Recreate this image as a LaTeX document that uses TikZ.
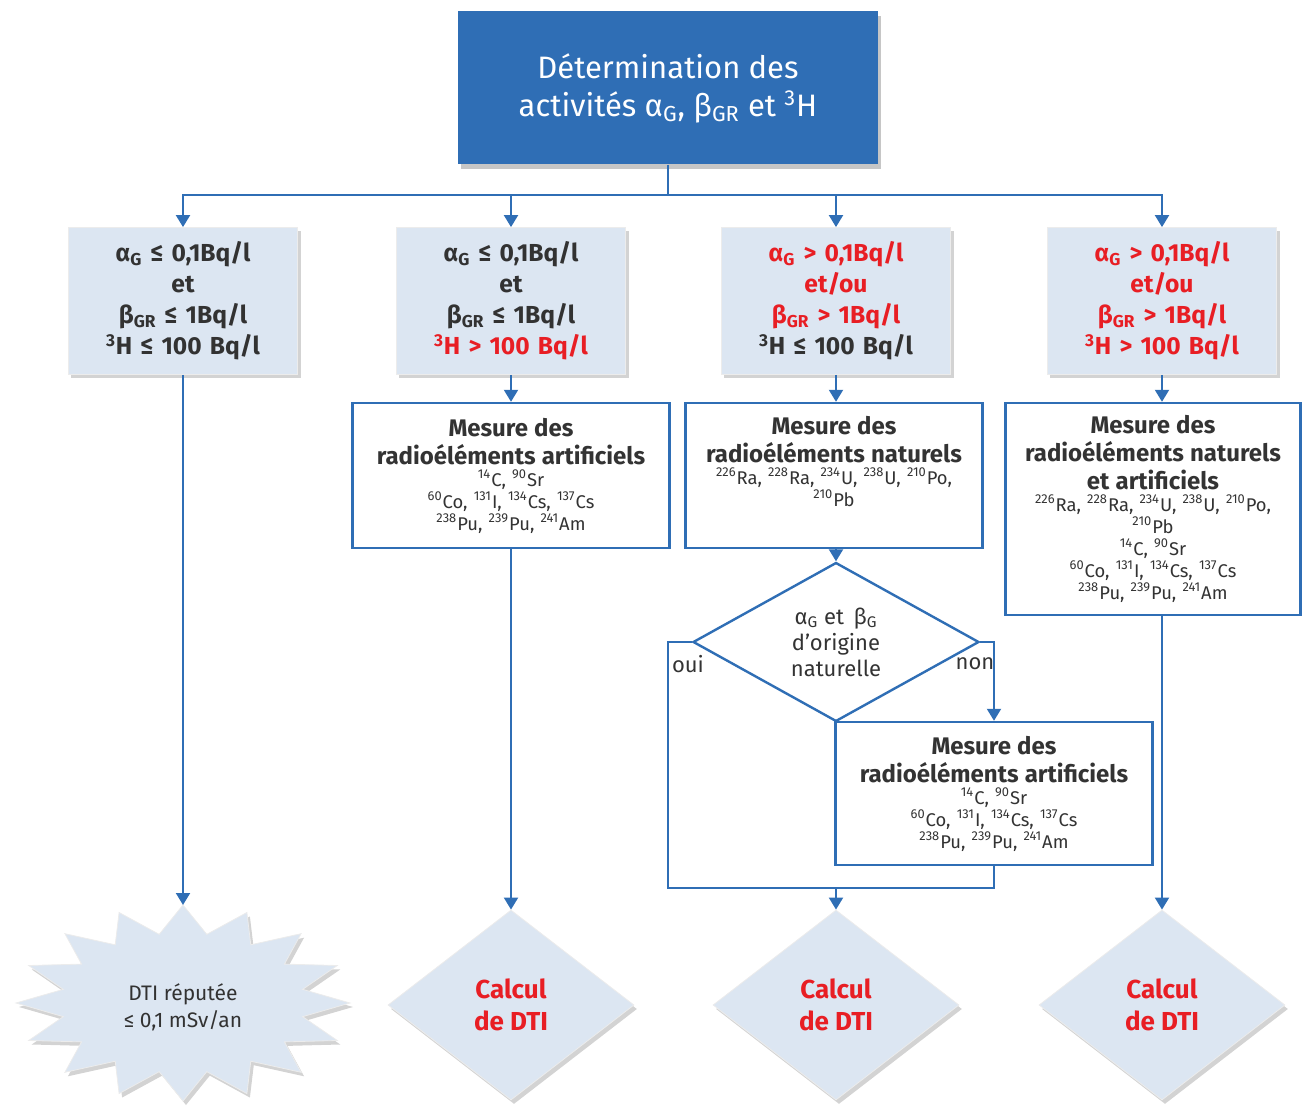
\documentclass[tikz,border=0pt]{standalone}
\usepackage{fontspec}
\setmainfont{Fira Sans}
\usetikzlibrary{shapes, arrows.meta, positioning, calc, shadows}
\definecolor{dtiblue}{RGB}{47,110,181}
\definecolor{dtilight}{RGB}{220,230,242}
\definecolor{dtired}{RGB}{232,30,36}
\definecolor{dtitext}{RGB}{50,50,50}
\newcommand\rouge[1]{\textcolor{dtired}{#1}}
\newcommand\iso[2]{\textsuperscript{#1}#2}
\newcommand\mhead[1]{{\fontsize{12}{14}\selectfont\bfseries #1\par}}
\tikzset{headbox/.style={rectangle, fill=dtiblue, text=white, minimum width=210pt, minimum height=76.5pt,
            align=center, font=\fontsize{15.5}{19}\selectfont,
            drop shadow={shadow xshift=1.5pt, shadow yshift=-2.5pt, opacity=.45}},
         cond/.style={rectangle, fill=dtilight, draw=white!85!gray, text=dtitext, minimum width=113pt,
            minimum height=73.5pt, text width=108pt, align=center, font=\fontsize{12.3}{15.5}\selectfont\bfseries,
            drop shadow={shadow xshift=1.5pt, shadow yshift=-2pt, opacity=.35}},
         mesure/.style={rectangle, draw=dtiblue, line width=1.2pt, fill=white, text=black!80, align=center,
            font=\fontsize{9.2}{11}\selectfont},
         decision/.style={diamond, draw=dtiblue, line width=1.2pt, fill=white, inner sep=0pt, minimum width=143pt,
            minimum height=70pt, align=center, text=black!80, font=\fontsize{11}{13}\selectfont},
         calcbox/.style={diamond, fill=dtilight, draw=white!85!gray, inner sep=0pt, minimum width=123pt,
            minimum height=95pt, align=center, text=dtired, font=\fontsize{13}{16}\selectfont\bfseries,
            drop shadow={shadow xshift=1.5pt, shadow yshift=-2pt, opacity=.35}},
         starshape/.style={fill=dtilight, draw=white!85!gray, drop shadow={shadow xshift=1.5pt, shadow yshift=-2pt, opacity=.35}},
         link/.style={draw=dtiblue, line width=1pt},
         flow/.style={link, ->}}

\begin{document}
\begin{tikzpicture}[x=0.5pt, y=-0.5pt, >={Triangle[width=7pt,length=6pt]}]
    \useasboundingbox (0,0) rectangle (1303,1107);

    \node[headbox] (head) at (668,88) {Détermination des\\activités α\textsubscript{G}, β\textsubscript{GR} et \textsuperscript{3}H};
    \coordinate (split) at (668,195);

    % seuils
    \node[cond] (c1) at (183,301) {α\textsubscript{G} ≤ 0,1Bq/l\\et\\β\textsubscript{GR} ≤ 1Bq/l\\\textsuperscript{3}H ≤ 100 Bq/l};
    \node[cond] (c2) at (511,301) {α\textsubscript{G} ≤ 0,1Bq/l\\et\\β\textsubscript{GR} ≤ 1Bq/l\\\rouge{\textsuperscript{3}H > 100 Bq/l}};
    \node[cond] (c3) at (836,301) {\rouge{α\textsubscript{G} > 0,1Bq/l}\\\rouge{et/ou}\\\rouge{β\textsubscript{GR} > 1Bq/l}\\\textsuperscript{3}H ≤ 100 Bq/l};
    \node[cond] (c4) at (1162,301) {\rouge{α\textsubscript{G} > 0,1Bq/l}\\\rouge{et/ou}\\\rouge{β\textsubscript{GR} > 1Bq/l}\\\rouge{\textsuperscript{3}H > 100 Bq/l}};

    % mesures
    \node[mesure, minimum width=158.5pt, minimum height=72.5pt, text width=152pt] (m2) at (511,475.5)
        {\mhead{Mesure des\\radioéléments artificiels}\iso{14}{C}, \iso{90}{Sr}\\\iso{60}{Co}, \iso{131}{I}, \iso{134}{Cs}, \iso{137}{Cs}\\\iso{238}{Pu}, \iso{239}{Pu}, \iso{241}{Am}};
    \node[mesure, minimum width=148pt, minimum height=72.5pt, text width=142pt] (m3) at (834,475.5)
        {\mhead{Mesure des\\radioéléments naturels}\iso{226}{Ra}, \iso{228}{Ra}, \iso{234}{U}, \iso{238}{U}, \iso{210}{Po},\\\iso{210}{Pb}\\\strut};
    \node[mesure, minimum width=147pt, minimum height=106pt, text width=141pt] (m4) at (1153,509)
        {\mhead{Mesure des\\radioéléments naturels\\et artificiels}\iso{226}{Ra}, \iso{228}{Ra}, \iso{234}{U}, \iso{238}{U}, \iso{210}{Po},\\\iso{210}{Pb}\\\iso{14}{C}, \iso{90}{Sr}\\\iso{60}{Co}, \iso{131}{I}, \iso{134}{Cs}, \iso{137}{Cs}\\\iso{238}{Pu}, \iso{239}{Pu}, \iso{241}{Am}};

    \node[decision] (dec) at (836,642) {α\textsubscript{G} et\, β\textsubscript{G}\\d’origine\\naturelle};
    \node[mesure, minimum width=158pt, minimum height=71.5pt, text width=152pt] (m3b) at (994,793.5)
        {\mhead{Mesure des\\radioéléments artificiels}\iso{14}{C}, \iso{90}{Sr}\\\iso{60}{Co}, \iso{131}{I}, \iso{134}{Cs}, \iso{137}{Cs}\\\iso{238}{Pu}, \iso{239}{Pu}, \iso{241}{Am}};
    \node[font=\fontsize{11}{13}\selectfont, text=black!80] (oui) at (688,664) {oui};
    \node[font=\fontsize{11}{13}\selectfont, text=black!80] (non) at (975,664) {non};
    \coordinate (merge) at (836,888);

    % resultats
    \draw[starshape] plot[domain=0:32, samples=33, variable=\k]
        ({183+ifthenelse(mod(\k,2)==0,167,122)*sin(11.25*\k)}, {1003-ifthenelse(mod(\k,2)==0,98,70)*cos(11.25*\k)}) -- cycle;
    \coordinate (startop) at (183,905);
    \node[text=dtitext, align=center, font=\fontsize{10.5}{13.5}\selectfont] (dti) at (183,1007) {DTI réputée\\≤ 0,1 mSv/an};
    \node[calcbox] (d2) at (511,1005) {Calcul\\de DTI};
    \node[calcbox] (d3) at (836,1005) {Calcul\\de DTI};
    \node[calcbox] (d4) at (1162,1005) {Calcul\\de DTI};

    \draw[link] (head) -- (split);
    \foreach \c in {c1,c2,c3,c4}
        \draw[flow] (split) -| (\c.north);
    \draw[flow] (c1) -- (startop);
    \draw[flow] (c2) -- (m2);
    \draw[flow] (m2) -- (d2);
    \draw[flow] (c3.south) -- (c3.south |- m3.north);
    \draw[flow] (m3.south -| dec.north) -- (dec.north);
    \draw[link] (dec.west) -- ++(-24,0) |- (merge);
    \draw[flow] (dec.east) -| (m3b.north);
    \draw[link] (m3b.south) |- (merge);
    \draw[flow] (merge) -- (d3);
    \draw[flow] (c4.south) -- (c4.south |- m4.north);
    \draw[flow] (m4.south -| d4.north) -- (d4.north);
\end{tikzpicture}
\end{document}
